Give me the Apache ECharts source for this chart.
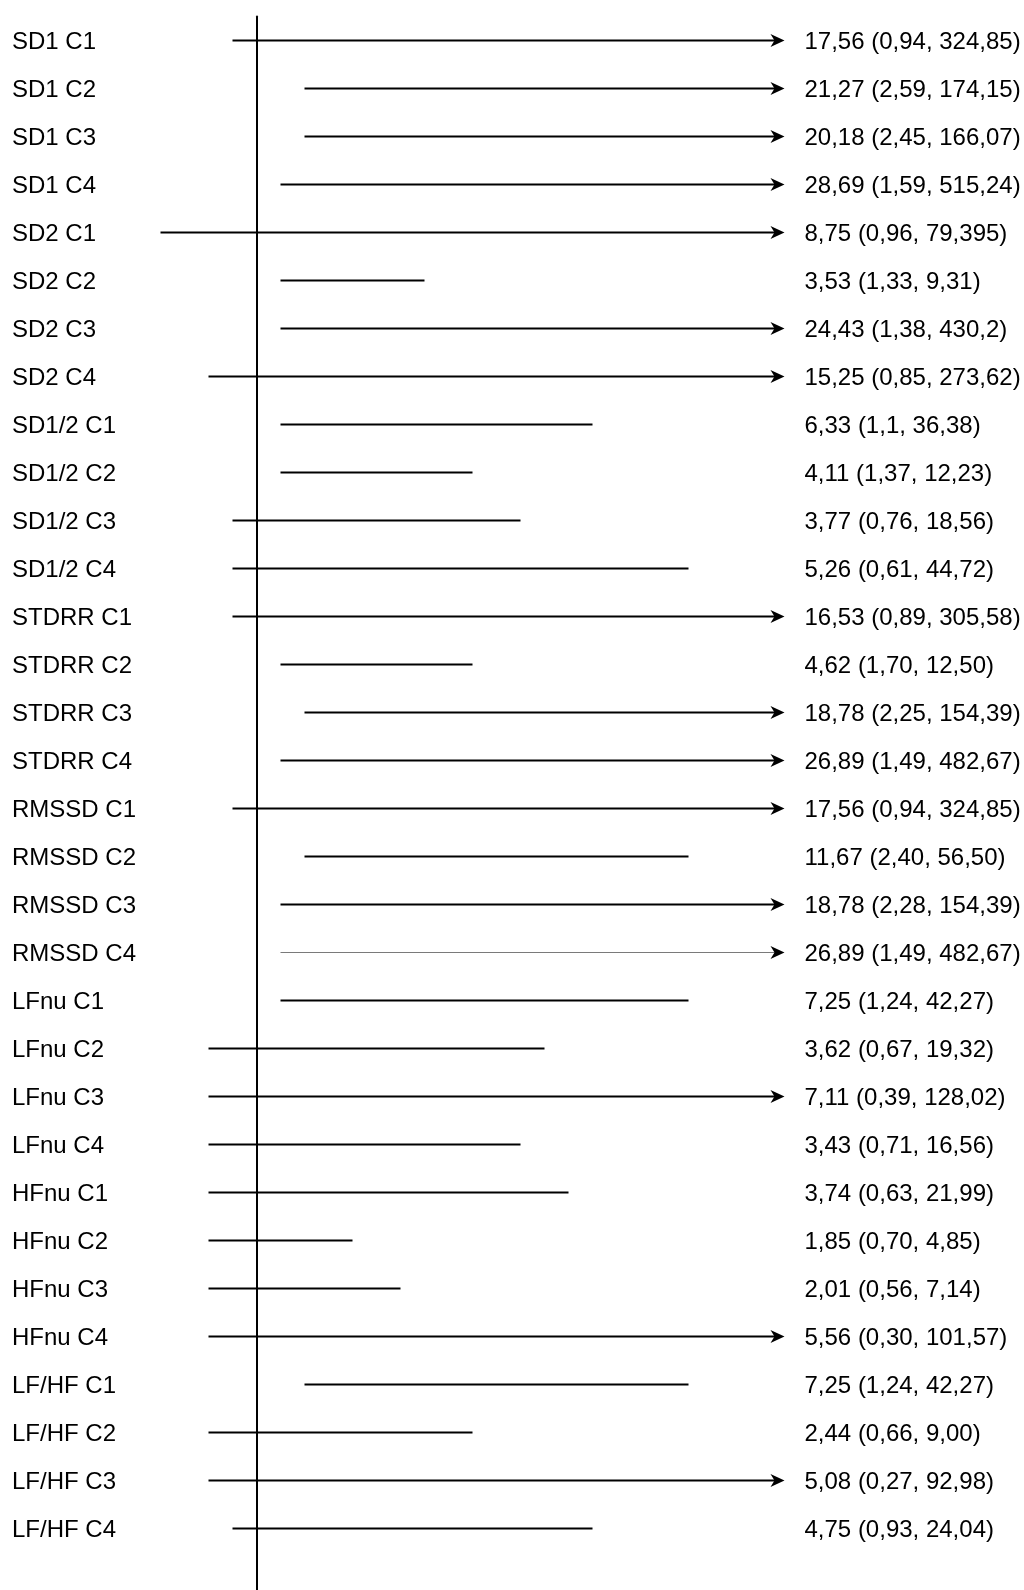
<!DOCTYPE html>
<html>
<head>
<meta charset="utf-8">
<title>Forest plot</title>
<script src="https://cdn.jsdelivr.net/npm/echarts@6/dist/echarts.min.js"></script>
<style>
  html, body { margin: 0; padding: 0; background: #fff; }
  #chart { width: 1024px; height: 1590px; }
</style>
</head>
<body>
<div id="chart"></div>
<script>
// Row names (top to bottom)
const names = [
  'SD1 C1', 'SD1 C2', 'SD1 C3', 'SD1 C4',
  'SD2 C1', 'SD2 C2', 'SD2 C3', 'SD2 C4',
  'SD1/2 C1', 'SD1/2 C2', 'SD1/2 C3', 'SD1/2 C4',
  'STDRR C1', 'STDRR C2', 'STDRR C3', 'STDRR C4',
  'RMSSD C1', 'RMSSD C2', 'RMSSD C3', 'RMSSD C4',
  'LFnu C1', 'LFnu C2', 'LFnu C3', 'LFnu C4',
  'HFnu C1', 'HFnu C2', 'HFnu C3', 'HFnu C4',
  'LF/HF C1', 'LF/HF C2', 'LF/HF C3', 'LF/HF C4'
];

// Estimate (95% CI) text shown at the right of each row
const estimates = [
  '17,56 (0,94, 324,85)', '21,27 (2,59, 174,15)', '20,18 (2,45, 166,07)', '28,69 (1,59, 515,24)',
  '8,75 (0,96, 79,395)', '3,53 (1,33, 9,31)', '24,43 (1,38, 430,2)', '15,25 (0,85, 273,62)',
  '6,33 (1,1, 36,38)', '4,11 (1,37, 12,23)', '3,77 (0,76, 18,56)', '5,26 (0,61, 44,72)',
  '16,53 (0,89, 305,58)', '4,62 (1,70, 12,50)', '18,78 (2,25, 154,39)', '26,89 (1,49, 482,67)',
  '17,56 (0,94, 324,85)', '11,67 (2,40, 56,50)', '18,78 (2,28, 154,39)', '26,89 (1,49, 482,67)',
  '7,25 (1,24, 42,27)', '3,62 (0,67, 19,32)', '7,11 (0,39, 128,02)', '3,43 (0,71, 16,56)',
  '3,74 (0,63, 21,99)', '1,85 (0,70, 4,85)', '2,01 (0,56, 7,14)', '5,56 (0,30, 101,57)',
  '7,25 (1,24, 42,27)', '2,44 (0,66, 9,00)', '5,08 (0,27, 92,98)', '4,75 (0,93, 24,04)'
];

// Interval start / end on the plot's schematic scale (0 = line of no effect)
const lower = [
  -1, 2, 2, 1,
  -4, 1, 1, -2,
  1, 1, -1, -1,
  -1, 1, 2, 1,
  -1, 2, 1, 1,
  1, -2, -2, -2,
  -2, -2, -2, -2,
  2, -2, -2, -1
];
const upper = [
  22, 22, 22, 22,
  22, 7, 22, 22,
  14, 9, 11, 18,
  22, 9, 22, 22,
  22, 18, 22, 22,
  18, 12, 22, 11,
  13, 4, 6, 22,
  18, 9, 22, 14
];
// 1 = interval runs off the scale (drawn with an arrowhead)
const openEnded = [
  1, 1, 1, 1,
  1, 0, 1, 1,
  0, 0, 0, 0,
  1, 0, 1, 1,
  1, 0, 1, 1,
  0, 0, 1, 0,
  0, 0, 0, 1,
  0, 0, 1, 0
];

const FONT = '"Liberation Sans", Arial, Helvetica, sans-serif';
const ZERO_PX = 256.5;   // pixel position of the reference line
const UNIT_PX = 24;      // pixels per scale unit
const ROW_PX = 48;       // row pitch
const GRID_TOP = 16.5;
const H = 1590, W = 1024;
const SCALE_END = 22;    // right edge of the drawn scale (arrow tips)

const rows = names.map((n, i) => [i, lower[i], upper[i], openEnded[i]]);

const chart = echarts.init(document.getElementById('chart'), null, { renderer: 'canvas' });

chart.setOption({
  animation: false,
  backgroundColor: '#fff',
  grid: { left: 0, right: 0, top: GRID_TOP, bottom: 0, containLabel: false },
  xAxis: {
    type: 'value',
    min: -ZERO_PX / UNIT_PX,
    max: (W - ZERO_PX) / UNIT_PX,
    show: false
  },
  yAxis: {
    type: 'value',
    inverse: true,
    min: -0.5,
    max: -0.5 + (H - GRID_TOP) / ROW_PX,
    axisLine: { show: true, onZero: true, lineStyle: { color: '#000', width: 2 } },
    axisTick: { show: false },
    axisLabel: { show: false },
    splitLine: { show: false }
  },
  series: [{
    type: 'custom',
    data: rows,
    clip: false,
    renderItem: function (params, api) {
      const i = api.value(0);
      const lo = api.value(1), hi = api.value(2), open = api.value(3);
      const a = api.coord([lo, i]);
      const b = api.coord([hi, i]);
      const thin = names[i] === 'RMSSD C4';
      const lineEnd = open ? b[0] - 9 : b[0];
      const children = [{
        type: 'line',
        shape: { x1: a[0], y1: a[1], x2: lineEnd, y2: b[1] },
        style: { stroke: thin ? '#7a7a7a' : '#000', lineWidth: thin ? 1.2 : 2.2 }
      }];
      if (open) {
        children.push({
          type: 'polygon',
          shape: { points: [[b[0], b[1]], [b[0] - 14, b[1] - 6.5], [b[0] - 10, b[1]], [b[0] - 14, b[1] + 6.5]] },
          style: { fill: '#000' }
        });
      }
      const tip = api.coord([SCALE_END, i]);
      children.push({
        type: 'text',
        style: {
          x: 12, y: a[1] + 1.5, text: names[i],
          font: '24px ' + FONT, fill: '#000',
          align: 'left', verticalAlign: 'middle'
        }
      });
      children.push({
        type: 'text',
        style: {
          x: tip[0] + 20, y: a[1] + 1.5, text: estimates[i],
          font: '24px ' + FONT, fill: '#000',
          align: 'left', verticalAlign: 'middle'
        }
      });
      return { type: 'group', children: children };
    }
  }]
});
</script>
</body>
</html>
